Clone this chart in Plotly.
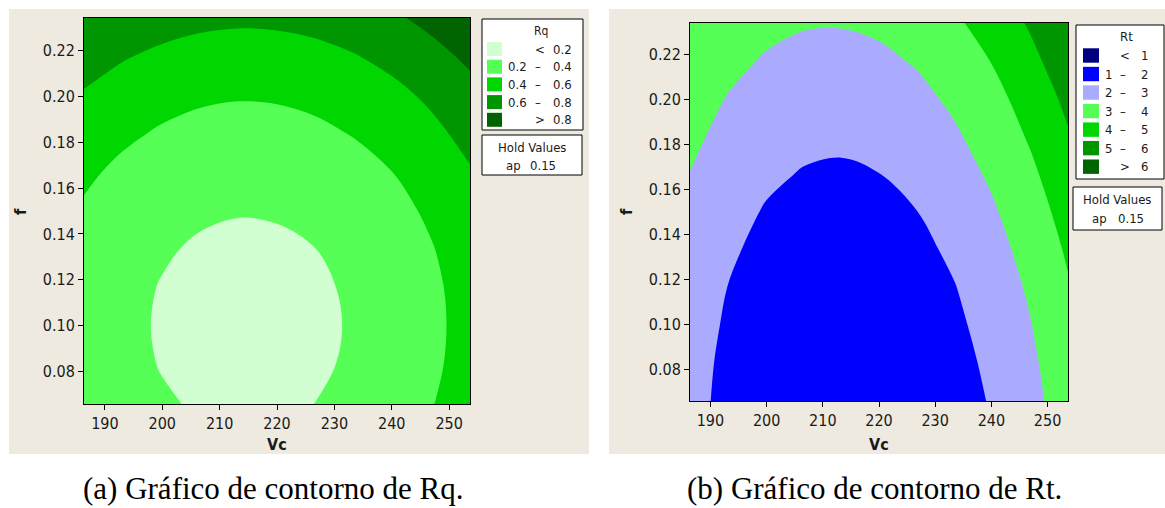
import plotly.graph_objects as go

W, H = 1165, 508

# ---------------- data ----------------
vc = [186.36, 193.09, 199.82, 206.55, 213.27, 220.0, 226.73, 233.45, 240.18, 246.91, 253.64]
f = [0.0659, 0.0827, 0.0995, 0.1164, 0.1332, 0.15, 0.1668, 0.1836, 0.2005, 0.2173, 0.2341]

# Rq estimated on the (f row, Vc column) grid
rq = [
    [0.341, 0.270, 0.218, 0.184, 0.170, 0.176, 0.201, 0.246, 0.309, 0.392, 0.494],
    [0.317, 0.246, 0.194, 0.160, 0.146, 0.152, 0.177, 0.222, 0.285, 0.368, 0.470],
    [0.309, 0.238, 0.186, 0.152, 0.138, 0.144, 0.169, 0.214, 0.277, 0.360, 0.462],
    [0.316, 0.245, 0.193, 0.159, 0.145, 0.151, 0.176, 0.221, 0.284, 0.367, 0.469],
    [0.339, 0.268, 0.216, 0.182, 0.168, 0.174, 0.199, 0.244, 0.307, 0.390, 0.492],
    [0.378, 0.307, 0.255, 0.221, 0.207, 0.213, 0.238, 0.283, 0.346, 0.429, 0.531],
    [0.432, 0.361, 0.309, 0.275, 0.261, 0.267, 0.292, 0.337, 0.400, 0.483, 0.585],
    [0.503, 0.432, 0.380, 0.346, 0.332, 0.338, 0.363, 0.408, 0.471, 0.554, 0.656],
    [0.584, 0.513, 0.461, 0.427, 0.413, 0.419, 0.444, 0.489, 0.552, 0.635, 0.737],
    [0.685, 0.614, 0.562, 0.528, 0.514, 0.520, 0.545, 0.590, 0.653, 0.736, 0.838],
    [0.785, 0.732, 0.680, 0.646, 0.632, 0.638, 0.663, 0.708, 0.771, 0.854, 0.956],
]

# Rt estimated on the same grid
rt = [
    [2.29, 1.76, 1.37, 1.12, 1.02, 1.07, 1.26, 1.60, 2.08, 2.71, 3.48],
    [2.33, 1.81, 1.43, 1.19, 1.10, 1.15, 1.35, 1.70, 2.19, 2.82, 3.60],
    [2.41, 1.89, 1.52, 1.29, 1.20, 1.26, 1.47, 1.83, 2.32, 2.96, 3.75],
    [2.50, 1.99, 1.63, 1.40, 1.33, 1.39, 1.61, 1.97, 2.48, 3.12, 3.92],
    [2.63, 2.13, 1.77, 1.56, 1.49, 1.56, 1.78, 2.16, 2.67, 3.32, 4.12],
    [2.79, 2.30, 1.94, 1.74, 1.68, 1.76, 1.99, 2.37, 2.89, 3.55, 4.36],
    [2.98, 2.49, 2.15, 1.95, 1.89, 1.99, 2.22, 2.61, 3.14, 3.81, 4.63],
    [3.20, 2.72, 2.38, 2.19, 2.14, 2.24, 2.49, 2.88, 3.42, 4.10, 4.92],
    [3.43, 2.96, 2.63, 2.44, 2.40, 2.51, 2.76, 3.17, 3.71, 4.39, 5.22],
    [3.66, 3.24, 2.92, 2.74, 2.71, 2.82, 3.08, 3.49, 4.04, 4.74, 5.58],
    [3.88, 3.55, 3.24, 3.07, 3.05, 3.17, 3.43, 3.85, 4.41, 5.11, 5.96],
]

rq_levels = [0.2, 0.4, 0.6, 0.8]
rq_colors = ["#D2FFD2", "#55FF55", "#00D700", "#009600", "#006400"]
rt_levels = [1, 2, 3, 4, 5, 6]
rt_colors = ["#000080", "#0000FF", "#AAAAFF", "#55FF55", "#00D700", "#009600", "#006400"]

vc_ticks = [190, 200, 210, 220, 230, 240, 250]
f_ticks = [0.08, 0.10, 0.12, 0.14, 0.16, 0.18, 0.20, 0.22]
vc_range = [186.36, 253.64]
f_range = [0.0659, 0.2341]

hold_name, hold_value = "ap", "0.15"
captions = ["(a) Gráfico de contorno de Rq.", "(b) Gráfico de contorno de Rt."]

# ---------------- styling ----------------
BEIGE = "#EEEAE0"
FONT = "DejaVu Sans Condensed, Liberation Sans, Arial, sans-serif"
SERIF = "Liberation Serif, Times New Roman, serif"
TXT = "#1a1a1a"


def px(x):
    return x / W


def py(y):
    return 1 - y / H


def step_scale(colors):
    n = len(colors)
    sc = []
    for i, c in enumerate(colors):
        lo = 0 if i == 0 else (i - 0.5) / (n - 1)
        hi = 1 if i == n - 1 else (i + 0.5) / (n - 1)
        sc += [[lo, c], [hi, c]]
    return sc


fig = go.Figure()

fig.add_trace(go.Contour(
    x=vc, y=f, z=rq, xaxis="x", yaxis="y",
    colorscale=step_scale(rq_colors), showscale=False,
    contours=dict(start=rq_levels[0], end=rq_levels[-1] + 1e-4,
                  size=rq_levels[1] - rq_levels[0], coloring="fill", showlines=False),
    line=dict(width=0, smoothing=1.0), hoverinfo="skip",
))
fig.add_trace(go.Contour(
    x=vc, y=f, z=rt, xaxis="x2", yaxis="y2",
    colorscale=step_scale(rt_colors), showscale=False,
    contours=dict(start=rt_levels[0], end=rt_levels[-1],
                  size=rt_levels[1] - rt_levels[0], coloring="fill", showlines=False),
    line=dict(width=0, smoothing=1.0), hoverinfo="skip",
))

axis_common = dict(
    showgrid=False, zeroline=False, showline=True, mirror=True,
    linecolor="black", linewidth=1, ticks="outside", ticklen=5,
    tickcolor="black", tickwidth=1,
    tickfont=dict(family=FONT, size=16, color=TXT),
)

panels = [
    dict(plot=(84, 470, 18, 404), bg=(9, 589, 9, 454)),
    dict(plot=(690, 1068, 23, 401), bg=(609, 1165, 9, 454)),
]

layout_axes = {}
for i, p in enumerate(panels):
    x0, x1, y0, y1 = p["plot"]
    sfx = "" if i == 0 else str(i + 1)
    layout_axes["xaxis" + sfx] = dict(
        axis_common, domain=[px(x0), px(x1)], range=vc_range,
        tickvals=vc_ticks, anchor="y" + sfx)
    layout_axes["yaxis" + sfx] = dict(
        axis_common, domain=[py(y1), py(y0)], range=f_range,
        tickvals=f_ticks, tickformat=".2f", anchor="x" + sfx)

shapes = []
annotations = []


def rect(x0, x1, y0, y1, fill, line=None, layer="above"):
    shapes.append(dict(
        type="rect", xref="paper", yref="paper",
        x0=px(x0), x1=px(x1), y0=py(y1), y1=py(y0),
        fillcolor=fill, layer=layer,
        line=dict(color=line or fill, width=1 if line else 0),
    ))


def text(x, y, s, size=13, anchor="center", bold=False, angle=0, family=FONT, color=TXT):
    annotations.append(dict(
        x=px(x), y=py(y), xref="paper", yref="paper", text=("<b>%s</b>" % s) if bold else s,
        showarrow=False, xanchor=anchor, yanchor="middle", textangle=angle,
        font=dict(family=family, size=size, color=color),
    ))


# beige panel backgrounds
for p in panels:
    bx0, bx1, by0, by1 = p["bg"]
    rect(bx0, bx1, by0, by1, BEIGE, layer="below")

# axis titles
text(277, 444, "Vc", size=16, bold=True)
text(21, 212, "f", size=16, bold=True, angle=-90)
text(879, 444, "Vc", size=16, bold=True)
text(627, 212, "f", size=16, bold=True, angle=-90)


def legend_rows(levels):
    fmt = lambda v: ("%g" % v)
    rows = [("", "<", fmt(levels[0]))]
    for a, b in zip(levels[:-1], levels[1:]):
        rows.append((fmt(a), "–", fmt(b)))
    rows.append(("", ">", fmt(levels[-1])))
    return rows


# ---- Rq legend ----
rect(482, 583, 19, 130, "white", line="black")
text(540.5, 31, "Rq", size=12)
for i, (a, sym, b) in enumerate(legend_rows(rq_levels)):
    yc = 49 + i * 17.7
    rect(487, 502, yc - 7, yc + 7, rq_colors[i])
    if a:
        text(529, yc, a, anchor="right")
        text(538, yc, sym)
    else:
        text(540, yc, sym)
    text(574, yc, b, anchor="right")
rect(482, 582, 135, 175, "white", line="black")
text(532, 148, "Hold Values")
text(513, 165, hold_name)
text(543, 165, hold_value)

# ---- Rt legend ----
rect(1076, 1164, 25, 179, "white", line="black")
text(1126, 37, "Rt", size=13)
for i, (a, sym, b) in enumerate(legend_rows(rt_levels)):
    yc = 55.5 + i * 18.53
    rect(1083, 1099, yc - 7.2, yc + 7.2, rt_colors[i])
    if a:
        text(1108, yc, a)
        text(1123, yc, sym)
    else:
        text(1125, yc, sym)
    text(1144, yc, b)
rect(1073, 1162, 187, 230, "white", line="black")
text(1117, 200, "Hold Values")
text(1099, 218, hold_name)
text(1131, 218, hold_value)

# captions
text(273, 488, captions[0], size=31, family=SERIF, color="black")
text(874, 488, captions[1], size=31, family=SERIF, color="black")

fig.update_layout(
    width=W, height=H, margin=dict(l=0, r=0, t=0, b=0),
    paper_bgcolor="white", plot_bgcolor="white",
    showlegend=False, shapes=shapes, annotations=annotations,
    **layout_axes,
)

fig.write_html("out.html")
